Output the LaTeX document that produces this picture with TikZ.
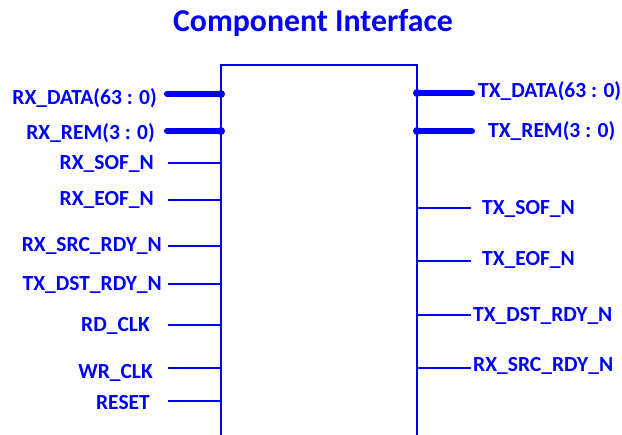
\documentclass[tikz,border=0pt]{standalone}
\usepackage{fontspec}
\setmainfont{Carlito}
\usetikzlibrary{positioning}

\definecolor{pinblue}{RGB}{0,0,250}

\begin{document}
\begin{tikzpicture}[x=1pt, y=-1pt,
    wire/.style={draw=pinblue, line width=2.6pt},
    bus/.style={draw=pinblue, line width=6pt, line cap=round},
    junction/.style={fill=pinblue},
    pinlabel/.style={text=pinblue, inner sep=0pt, font=\fontsize{21.5}{24}\selectfont\bfseries}]
    \useasboundingbox (0,0) rectangle (622,435);

    % Component body (open at the bottom)
    \coordinate (boxTL) at (221,65);
    \coordinate (boxTR) at (417,65);
    \draw[wire] (221,440) -- (boxTL) -- (boxTR) -- (417,440);

    % Title
    \node[text=pinblue, inner sep=0pt, anchor=base, font=\fontsize{31.8}{36}\selectfont\bfseries] (title) at (313,32) {Component Interface};

    % Left side pins
    \node[pinlabel, anchor=base east] (rxdata) at (157,105) {RX\_DATA(63 : 0)};
    \node[pinlabel, anchor=base east] (rxrem) at (155,140) {RX\_REM(3 : 0)};
    \node[pinlabel, anchor=base east] (rxsof) at (154,170) {RX\_SOF\_N};
    \node[pinlabel, anchor=base east] (rxeof) at (154,206) {RX\_EOF\_N};
    \node[pinlabel, anchor=base east] (rxsrc) at (162,252) {RX\_SRC\_RDY\_N};
    \node[pinlabel, anchor=base east] (txdst) at (162,291) {TX\_DST\_RDY\_N};
    \node[pinlabel, anchor=base east] (rdclk) at (150,332) {RD\_CLK};
    \node[pinlabel, anchor=base east] (wrclk) at (153,379) {WR\_CLK};
    \node[pinlabel, anchor=base east] (reset) at (150,410) {RESET};

    \coordinate (rxdata-p) at (167,94);
    \coordinate (rxrem-p) at (167,131);
    \coordinate (rxsof-p) at (168,163);
    \coordinate (rxeof-p) at (168,200);
    \coordinate (rxsrc-p) at (168,246);
    \coordinate (txdst-p) at (168,284);
    \coordinate (rdclk-p) at (168,325);
    \coordinate (wrclk-p) at (168,368);
    \coordinate (reset-p) at (168,401);

    \draw[bus] (rxdata-p) -- (rxdata-p -| boxTL);
    \draw[bus] (rxrem-p) -- (rxrem-p -| boxTL);
    \fill[junction] (rxdata-p -| boxTL) circle (4);
    \fill[junction] (rxrem-p -| boxTL) circle (4);
    \draw[wire] (rxsof-p) -- (rxsof-p -| boxTL);
    \draw[wire] (rxeof-p) -- (rxeof-p -| boxTL);
    \draw[wire] (rxsrc-p) -- (rxsrc-p -| boxTL);
    \draw[wire] (txdst-p) -- (txdst-p -| boxTL);
    \draw[wire] (rdclk-p) -- (rdclk-p -| boxTL);
    \draw[wire] (wrclk-p) -- (wrclk-p -| boxTL);
    \draw[wire] (reset-p) -- (reset-p -| boxTL);

    % Right side pins
    \node[pinlabel, anchor=base west] (txdata) at (478,98) {TX\_DATA(63 : 0)};
    \node[pinlabel, anchor=base west] (txrem) at (488,138) {TX\_REM(3 : 0)};
    \node[pinlabel, anchor=base west] (txsof) at (482,215) {TX\_SOF\_N};
    \node[pinlabel, anchor=base west] (txeof) at (482,266) {TX\_EOF\_N};
    \node[pinlabel, anchor=base west] (txdstout) at (473,322) {TX\_DST\_RDY\_N};
    \node[pinlabel, anchor=base west] (rxsrcout) at (473,372) {RX\_SRC\_RDY\_N};

    \coordinate (txdata-p) at (472,93);
    \coordinate (txrem-p) at (472,131);
    \coordinate (txsof-p) at (471,208);
    \coordinate (txeof-p) at (471,261);
    \coordinate (txdstout-p) at (471,315);
    \coordinate (rxsrcout-p) at (471,368);

    \draw[bus] (txdata-p -| boxTR) -- (txdata-p);
    \draw[bus] (txrem-p -| boxTR) -- (txrem-p);
    \fill[junction] (txdata-p -| boxTR) circle (4);
    \fill[junction] (txrem-p -| boxTR) circle (4);
    \draw[wire] (txsof-p -| boxTR) -- (txsof-p);
    \draw[wire] (txeof-p -| boxTR) -- (txeof-p);
    \draw[wire] (txdstout-p -| boxTR) -- (txdstout-p);
    \draw[wire] (rxsrcout-p -| boxTR) -- (rxsrcout-p);
\end{tikzpicture}
\end{document}
